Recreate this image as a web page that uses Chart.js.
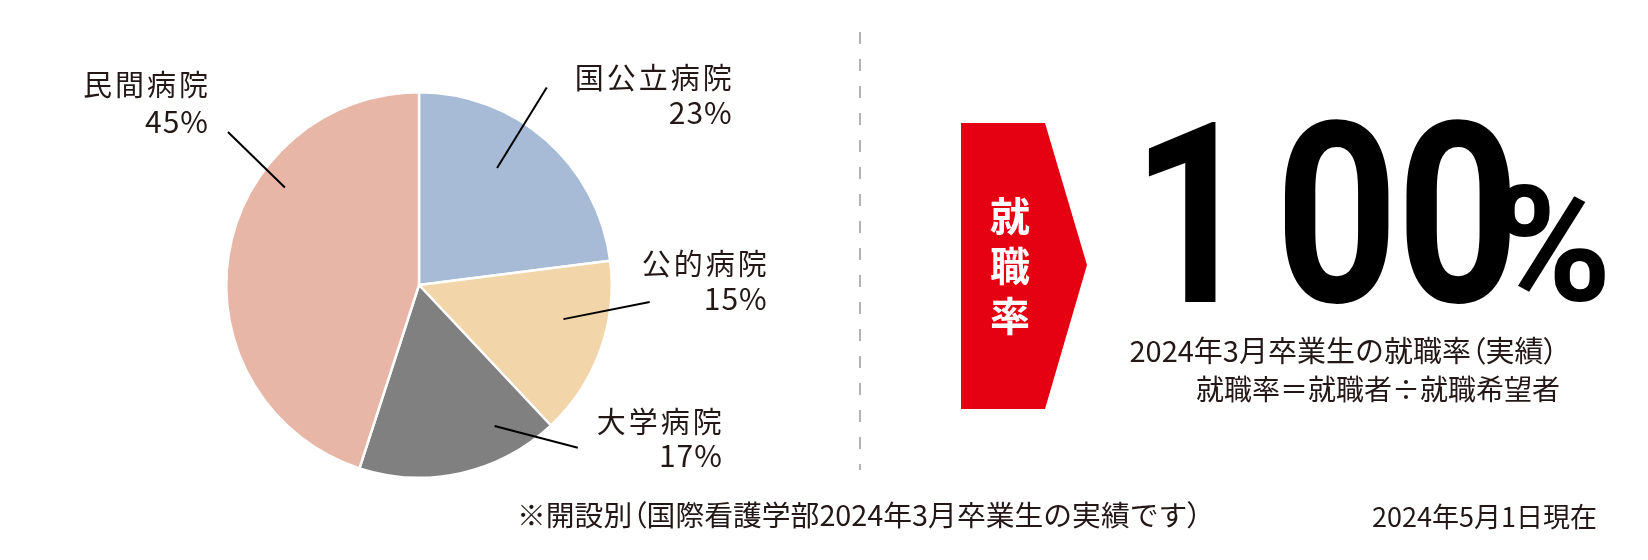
<!DOCTYPE html>
<html lang="ja">
<head>
<meta charset="utf-8">
<title>就職率</title>
<script src="https://cdn.jsdelivr.net/npm/chart.js@4/dist/chart.umd.min.js"></script>
<style>
  html, body { margin: 0; padding: 0; background: #fff; }
  body { width: 1648px; height: 560px; position: relative; overflow: hidden; }
  #pieBox { position: absolute; left: 0; top: 0; width: 860px; height: 560px; }
  #side { position: absolute; left: 0; top: 0; }
  #side text { font-family: "Noto Sans CJK JP", "Noto Sans", sans-serif; fill: #231815; }
  #side .p { font-feature-settings: "palt" 1; }
  #side .big { font-family: Roboto, "Noto Sans", sans-serif; font-weight: 700; fill: #000; }
</style>
</head>
<body>
<div id="pieBox"><canvas id="pie"></canvas></div>

<svg id="side" width="1648" height="560" viewBox="0 0 1648 560">
  <line x1="860" y1="32" x2="860" y2="470" stroke="#9a9a9a" stroke-width="1.5" stroke-dasharray="12 15"/>
  <polygon points="961,123 1045,123 1087,265 1045,409 961,409" fill="#e50012"/>
  <text x="1010" y="231" text-anchor="middle" font-size="40" font-weight="700" style="fill:#fff">就</text>
  <text x="1010" y="281" text-anchor="middle" font-size="40" font-weight="700" style="fill:#fff">職</text>
  <text x="1010" y="331" text-anchor="middle" font-size="40" font-weight="700" style="fill:#fff">率</text>

  <g transform="translate(0,302) scale(0.85,1)">
    <text class="big" x="1331 1500 1643" y="0" font-size="253">100</text>
  </g>
  <text class="big" x="1492" y="300" font-size="162">%</text>

  <text x="1558" y="362" text-anchor="end" font-size="29">2024年3月卒業生の就職率<tspan class="p">（</tspan>実績<tspan class="p">）</tspan></text>
  <text x="1560" y="400" text-anchor="end" font-size="28">就職率＝就職者÷就職希望者</text>
  <text x="517" y="526" font-size="28.8">※開設別<tspan class="p">（</tspan>国際看護学部2024年3月卒業生の実績です<tspan class="p">）</tspan></text>
  <text x="1597" y="527" text-anchor="end" font-size="27">2024年5月1日現在</text>
</svg>

<script>
// 開設別の内訳（%）
const categories = ['国公立病院', '公的病院', '大学病院', '民間病院'];
const shares = [23, 15, 17, 45];
const sliceColors = ['#a7bbd7', '#f2d5a8', '#808080', '#e8b6a7'];

// leader line + two-line label for each slice
const pieLabels = {
  id: 'pieLabels',
  afterDatasetsDraw(chart, args, opts) {
    const ctx = chart.ctx;
    const arcs = chart.getDatasetMeta(0).data;
    ctx.save();
    ctx.strokeStyle = '#000';
    ctx.lineWidth = 2;
    ctx.fillStyle = '#231815';
    ctx.textAlign = 'right';
    ctx.textBaseline = 'alphabetic';
    arcs.forEach((arc, i) => {
      const spec = opts.leaders[i];
      const R = arc.outerRadius;
      const pt = (deg, f) => {
        const a = deg * Math.PI / 180;
        return [arc.x + Math.sin(a) * R * f, arc.y - Math.cos(a) * R * f];
      };
      const p1 = pt(spec.a1, spec.r1);
      const p2 = pt(spec.a2, spec.r2);
      ctx.beginPath();
      ctx.moveTo(p1[0], p1[1]);
      ctx.lineTo(p2[0], p2[1]);
      ctx.stroke();
      const tx = p2[0] + spec.dx;
      ctx.font = '29px "Noto Sans CJK JP"';
      ctx.letterSpacing = '3px';
      ctx.fillText(chart.data.labels[i], tx + 3, p2[1] + spec.dy1);
      ctx.font = '30px "Noto Sans CJK JP"';
      ctx.letterSpacing = '1px';
      ctx.fillText(chart.data.datasets[0].data[i] + '%', tx + 1, p2[1] + spec.dy2);
    });
    ctx.restore();
  }
};

new Chart(document.getElementById('pie'), {
  type: 'pie',
  data: {
    labels: categories,
    datasets: [{
      data: shares,
      backgroundColor: sliceColors,
      borderColor: '#ffffff',
      borderWidth: 2.5
    }]
  },
  options: {
    responsive: true,
    maintainAspectRatio: false,
    animation: false,
    events: [],
    layout: {
      padding: { left: 225, right: 247, top: 91, bottom: 81 }
    },
    plugins: {
      legend: { display: false },
      tooltip: { enabled: false },
      pieLabels: {
        leaders: [
          { a1: 33.7, r1: 0.73, a2: 32.9, r2: 1.22, dx: 185, dy1: 1, dy2: 36 },
          { a1: 103.3, r1: 0.77, a2: 94.2, r2: 1.20, dx: 117, dy1: -27, dy2: 8 },
          { a1: 151.8, r1: 0.83, a2: 135.7, r2: 1.18, dx: 144, dy1: -15, dy2: 19 },
          { a1: 306, r1: 0.86, a2: 308.7, r2: 1.27, dx: -20, dy1: -36, dy2: 1 }
        ]
      }
    }
  },
  plugins: [pieLabels]
});
</script>
</body>
</html>
